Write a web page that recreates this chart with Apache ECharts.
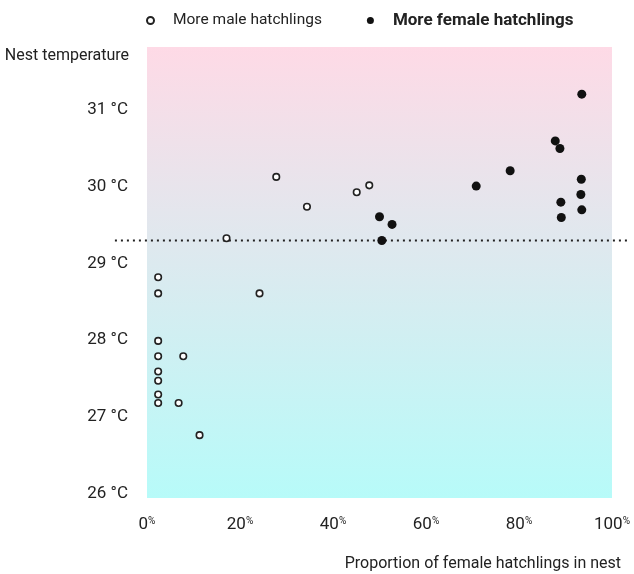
<!DOCTYPE html>
<html>
<head>
<meta charset="utf-8">
<script src="https://cdn.jsdelivr.net/npm/echarts@6/dist/echarts.min.js"></script>
<style>
html,body{margin:0;padding:0;background:#fff;}
#chart{width:634px;height:574px;}
</style>
</head>
<body>
<div id="chart"></div>
<script>
// Data: [proportion of female hatchlings (%), nest temperature (°C)]
var malePoints = [
  [2.4, 28.82], [2.4, 28.61], [2.4, 27.99], [2.4, 27.79], [2.4, 27.59],
  [2.4, 27.47], [2.4, 27.29], [2.4, 27.18], [7.8, 27.79], [6.8, 27.18],
  [11.3, 26.76], [17.1, 29.33], [24.2, 28.61], [27.8, 30.13], [34.4, 29.74],
  [45.1, 29.93], [47.8, 30.02]
];
var femalePoints = [
  [50.0, 29.61], [52.7, 29.51], [50.5, 29.30], [70.8, 30.01], [78.1, 30.21],
  [87.8, 30.60], [88.8, 30.50], [93.5, 31.21], [93.4, 30.10], [93.3, 29.90],
  [93.5, 29.70], [89.0, 29.80], [89.1, 29.60]
];
var pivotalTemp = 29.3;
var pivotalLineX = [-6.9, 103.4];
var yTickValues = [26, 27, 28, 29, 30, 31];
var seriesNames = ['More male hatchlings', 'More female hatchlings'];
var yAxisTitle = 'Nest temperature';
var xAxisTitle = 'Proportion of female hatchlings in nest';

var FONT = "Roboto, 'Noto Sans', sans-serif";
var TXT = '#222';

var chart = echarts.init(document.getElementById('chart'), null, {renderer: 'canvas'});
chart.setOption({
  animation: false,
  textStyle: {fontFamily: FONT},
  title: [
    {text: yAxisTitle, right: 500, top: 43,
     textStyle: {fontFamily: FONT, fontSize: 16, fontWeight: 'normal', color: TXT}},
    {text: xAxisTitle, right: 8, top: 551,
     textStyle: {fontFamily: FONT, fontSize: 16, fontWeight: 'normal', color: TXT}}
  ],
  legend: {
    left: 146, top: 12, padding: 0, width: 480,
    itemWidth: 7, itemHeight: 7, itemGap: 45,
    textStyle: {fontFamily: FONT, fontSize: 15.5, color: TXT, padding: [0, 0, 0, 14]},
    data: [
      {name: seriesNames[0], icon: 'circle'},
      {name: seriesNames[1], icon: 'circle', textStyle: {fontWeight: 'bold', fontSize: 17}}
    ]
  },
  grid: {
    left: 147, right: 22, top: 47, bottom: 76,
    show: true, borderWidth: 0,
    backgroundColor: new echarts.graphic.LinearGradient(0, 0, 0, 1, [
      {offset: 0, color: '#fedae6'},
      {offset: 1, color: '#b7fbf9'}
    ])
  },
  xAxis: {
    type: 'value', min: 0, max: 100, interval: 20,
    axisLine: {show: false}, axisTick: {show: false}, splitLine: {show: false},
    axisLabel: {
      margin: 18, color: TXT,
      formatter: function (v) { return '{n|' + v + '}{p|%}'; },
      rich: {
        n: {fontFamily: FONT, fontSize: 17, color: TXT},
        p: {fontFamily: FONT, fontSize: 10, color: TXT, verticalAlign: 'top', padding: [0, 0, 8, 0]}
      }
    }
  },
  yAxis: {
    type: 'value', min: 25.94, max: 31.825,
    axisLine: {show: false}, axisTick: {show: false}, splitLine: {show: false},
    axisLabel: {
      customValues: yTickValues,
      margin: 19, color: TXT, fontFamily: FONT, fontSize: 17,
      formatter: function (v) { return v + ' °C'; }
    }
  },
  series: [
    {
      name: seriesNames[0], type: 'scatter', symbol: 'circle', symbolSize: 6.5,
      itemStyle: {color: '#ffffff', borderColor: '#222', borderWidth: 1.6, opacity: 1},
      data: malePoints, z: 3
    },
    {
      name: seriesNames[1], type: 'scatter', symbol: 'circle', symbolSize: 9,
      itemStyle: {color: '#111', opacity: 1},
      data: femalePoints, z: 4
    }
  ]
});

// pivotal temperature line, positioned through the chart's own scales
var p0 = chart.convertToPixel({gridIndex: 0}, [pivotalLineX[0], pivotalTemp]);
var p1 = chart.convertToPixel({gridIndex: 0}, [pivotalLineX[1], pivotalTemp]);
chart.setOption({
  graphic: [{
    type: 'line', z: 2, silent: true,
    shape: {x1: p0[0], y1: p0[1], x2: p1[0], y2: p1[1]},
    style: {stroke: '#222', lineWidth: 2, lineDash: [2, 4]}
  }]
});
</script>
</body>
</html>
